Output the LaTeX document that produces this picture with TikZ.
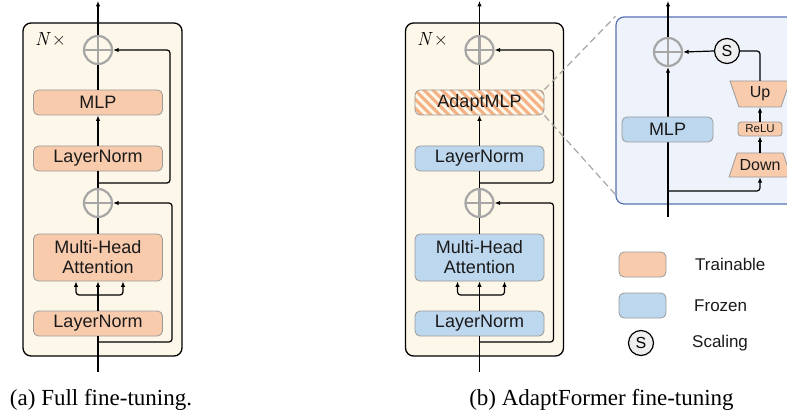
\documentclass[tikz,border=0pt]{standalone}
\usepackage{fontspec}
\setmainfont{Liberation Serif}
\setsansfont{Liberation Sans}
\newfontfamily\lmfont{Latin Modern Roman}
\usetikzlibrary{arrows.meta}
\definecolor{cream}{HTML}{FDF7E9}
\definecolor{trainfill}{HTML}{F8CBAD}
\definecolor{frozfill}{HTML}{BDD7EE}
\definecolor{boxedge}{HTML}{9A9A9A}
\definecolor{plusgray}{HTML}{A6A6A6}
\definecolor{adfill}{HTML}{EEF2FA}
\definecolor{adedge}{HTML}{5572B0}
\definecolor{hatchcol}{HTML}{F4B183}
\definecolor{sfill}{HTML}{EEEEEE}
\definecolor{txt}{HTML}{1A1A1A}
\begin{document}
\begin{tikzpicture}[x=1pt,y=-1pt,
  blk/.style={draw=boxedge, line width=0.8pt, rounded corners=5pt, minimum width=129pt, minimum height=25pt, inner sep=0pt, text=txt, font=\sffamily\fontsize{18}{21}\selectfont, align=center},
  train/.style={blk, fill=trainfill},
  froz/.style={blk, fill=frozfill},
  hatched/.style={blk, fill=cream, path picture={
      \foreach \i in {-160,-151,...,160} {
        \draw[hatchcol, line width=3pt] ([xshift=\i pt]path picture bounding box.center) ++(-25,-25) -- ++(50,50);
      }}},
  plusnode/.style={circle, draw=plusgray, line width=2.2pt, minimum size=28pt, inner sep=0pt, path picture={
      \draw[plusgray, line width=2.2pt] (path picture bounding box.north) -- (path picture bounding box.south)
        (path picture bounding box.west) -- (path picture bounding box.east);}},
  snode/.style={circle, draw=black, fill=sfill, line width=1.2pt, minimum size=25pt, inner sep=0pt, font=\sffamily\fontsize{16}{18}\selectfont},
  outerbox/.style={draw=black, fill=cream, line width=1.3pt, rounded corners=8pt, inner sep=0pt},
  adbox/.style={draw=adedge, fill=adfill, line width=1.2pt, rounded corners=8pt, inner sep=0pt},
  conn/.style={line width=1.2pt, black},
  arr/.style={conn, -{Latex[length=5.5pt,width=4.5pt]}},
  dashline/.style={draw=plusgray, line width=1.2pt, dash pattern=on 7pt off 4pt},
  lbl/.style={inner sep=0pt, text=txt, font=\sffamily\fontsize{16}{18}\selectfont},
  legtext/.style={anchor=west, inner sep=0pt, text=txt, font=\sffamily\fontsize{17}{19}\selectfont},
  captext/.style={inner sep=0pt, font=\fontsize{23}{26}\selectfont},
  ntimes/.style={anchor=west, inner sep=0pt, font=\lmfont\fontsize{19}{21}\selectfont}
]
\useasboundingbox (0,0) rectangle (787,417);
\clip (0,0) rectangle (787,417);

% ---------- (a) full fine-tuning ----------
\node[outerbox, minimum width=159pt, minimum height=333pt] (outA) at (102.5,189.5) {};
\node[ntimes] (nA) at (35,39) {{\itshape N}\,×};
\node[train] (mlpA) at (98,102.5) {MLP};
\node[train] (lnA1) at (98,158.5) {LayerNorm};
\node[train, minimum height=47pt] (mhaA) at (98,257.5) {Multi-Head\\[-1pt]Attention};
\node[train] (lnA2) at (98,323.5) {LayerNorm};
\node[plusnode] (pA1) at (98,50) {};
\node[plusnode] (pA2) at (98,203) {};
\coordinate (topA) at (98,1);
\coordinate (inA) at (98,372);
\coordinate (brA1) at (98,183);
\coordinate (brA2) at (98,342);
\coordinate (spA) at (98,295);
\draw[conn] (inA) -- (lnA2.south);
\draw[arr] (lnA2.north) -- (mhaA.south);
\draw[arr, rounded corners=3pt] (spA) -| ([xshift=-22pt]mhaA.south);
\draw[arr, rounded corners=3pt] (spA) -| ([xshift=25pt]mhaA.south);
\draw[conn] (mhaA.north) -- (pA2.south);
\draw[arr, rounded corners=3pt] (brA2) -- ++(74,0) |- (pA2.east);
\draw[conn] (pA2.north) -- (lnA1.south);
\draw[arr] (lnA1.north) -- (mlpA.south);
\draw[conn] (mlpA.north) -- (pA1.south);
\draw[arr, rounded corners=3pt] (brA1) -- ++(72,0) |- (pA1.east);
\draw[arr] (pA1.north) -- (topA);
\node[captext] (capA) at (101,400) {(a) Full fine-tuning.};

% ---------- (b) AdaptFormer ----------
\node[outerbox, minimum width=158pt, minimum height=333pt] (outB) at (484.5,189.5) {};
\node[ntimes] (nB) at (417,39) {{\itshape N}\,×};
\node[hatched] (aB) at (479.5,102.5) {AdaptMLP};
\node[froz] (lnB1) at (479.5,158.5) {LayerNorm};
\node[froz, minimum height=47pt] (mhaB) at (479.5,257.5) {Multi-Head\\[-1pt]Attention};
\node[froz] (lnB2) at (479.5,323.5) {LayerNorm};
\node[plusnode] (pB1) at (479.5,50) {};
\node[plusnode] (pB2) at (479.5,203) {};
\coordinate (topB) at (479.5,1);
\coordinate (inB) at (479.5,372);
\coordinate (brB1) at (479.5,183);
\coordinate (brB2) at (479.5,342);
\coordinate (spB) at (479.5,295);
\draw[conn] (inB) -- (lnB2.south);
\draw[arr] (lnB2.north) -- (mhaB.south);
\draw[arr, rounded corners=3pt] (spB) -| ([xshift=-22pt]mhaB.south);
\draw[arr, rounded corners=3pt] (spB) -| ([xshift=25pt]mhaB.south);
\draw[conn] (mhaB.north) -- (pB2.south);
\draw[arr, rounded corners=3pt] (brB2) -- ++(74,0) |- (pB2.east);
\draw[conn] (pB2.north) -- (lnB1.south);
\draw[arr] (lnB1.north) -- (aB.south);
\draw[conn] (aB.north) -- (pB1.south);
\draw[arr, rounded corners=3pt] (brB1) -- ++(74,0) |- (pB1.east);
\draw[arr] (pB1.north) -- (topB);
\node[captext] (capB) at (601.5,400) {(b) AdaptFormer fine-tuning};

% ---------- adapter detail ----------
\node[adbox, minimum width=184pt, minimum height=187pt] (adBox) at (708,110.5) {};
\node[plusnode] (pC) at (668,52) {};
\coordinate (topC) at (668,1);
\coordinate (inC) at (668,217);
\coordinate (brC) at (668,191);
\draw[arr] (inC) -- (pC.south);
\node[froz, minimum width=91pt] (mlpC) at (667.5,129.5) {MLP};
\filldraw[fill=trainfill, draw=boxedge, line width=0.8pt] (729,177) -- (791,177) -- (783,153) -- (737,153) -- cycle;
\filldraw[fill=trainfill, draw=boxedge, line width=0.8pt] (730,81) -- (790,81) -- (781,107) -- (739,107) -- cycle;
\node[lbl, minimum width=46pt, minimum height=24pt] (downC) at (760,165) {Down};
\node[lbl, minimum width=42pt, minimum height=26pt] (upC) at (760,94) {Up};
\node[train, minimum width=44pt, minimum height=14pt, rounded corners=3pt, font=\sffamily\fontsize{11.5}{13}\selectfont] (reluC) at (760,129) {ReLU};
\node[snode] (sC) at (727,51) {S};
\draw[arr, rounded corners=3pt] (brC) -| (downC.south);
\draw[arr] (downC.north) -- (reluC.south);
\draw[arr] (reluC.north) -- (upC.south);
\draw[conn, rounded corners=3pt] (upC.north) |- (sC.east);
\draw[arr] (sC.west) -- (pC.east);
\draw[arr] (pC.north) -- (topC);

% dashed zoom lines
\draw[dashline] (aB.north east) -- (adBox.north west);
\draw[dashline] (aB.south east) -- ([yshift=10pt]adBox.south west);

% ---------- legend ----------
\node[train, minimum width=47pt, minimum height=25pt] (legT) at (642.5,264.5) {};
\node[froz, minimum width=47pt, minimum height=25pt] (legF) at (642.5,305.5) {};
\node[snode] (legS) at (641,343) {S};
\node[legtext] (legTt) at (695,264.5) {Trainable};
\node[legtext] (legFt) at (694,306) {Frozen};
\node[legtext] (legSt) at (692,343) {Scaling};
\end{tikzpicture}
\end{document}
